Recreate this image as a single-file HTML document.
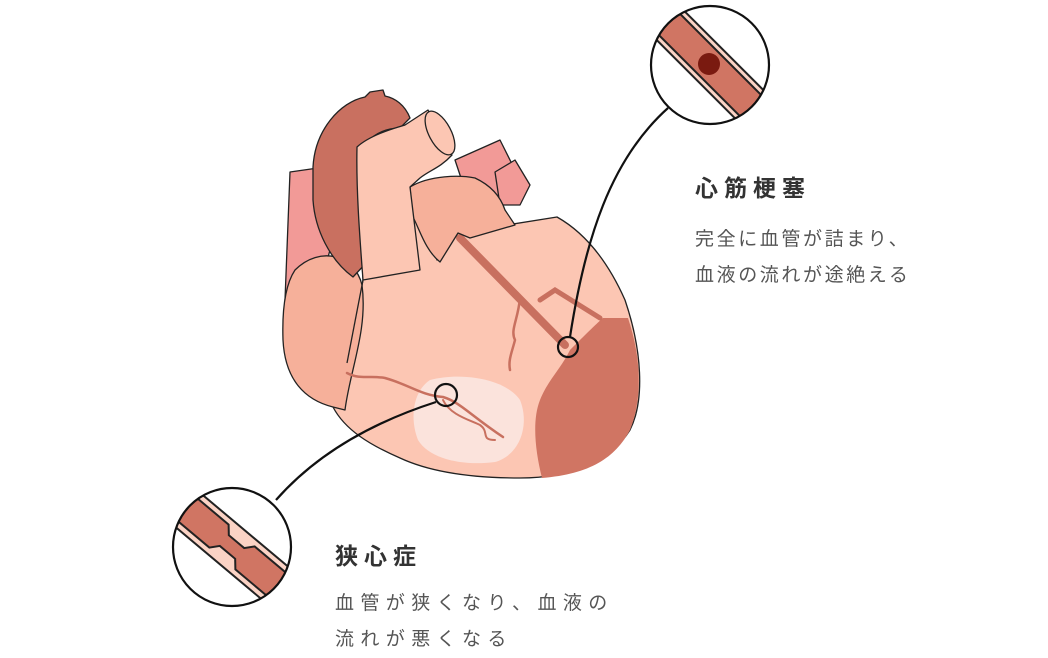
<!DOCTYPE html>
<html><head><meta charset="utf-8"><style>
body{margin:0;background:#fff;width:1048px;height:658px;overflow:hidden;font-family:"Liberation Sans","Noto Sans CJK JP",sans-serif;}
svg{position:absolute;left:0;top:0}
.h{position:absolute;font-size:23px;font-weight:bold;color:#333;letter-spacing:6px;white-space:nowrap}
.t{position:absolute;font-size:19px;color:#555;letter-spacing:2.6px;line-height:36px;white-space:nowrap}
</style></head><body>
<svg width="1048" height="658" viewBox="0 0 1048 658">
<defs>
<clipPath id="c1"><circle cx="710" cy="65" r="59"/></clipPath>
<clipPath id="c2"><circle cx="232" cy="547" r="59"/></clipPath>
</defs>
<g stroke="#222" stroke-width="1.3" stroke-linejoin="round">
<path d="M290,172 L318,168 L330,250 L300,360 L285,300 Z" fill="#f29a97"/>
<path d="M455,160 L500,140 L515,170 L500,200 L470,205 Z" fill="#f29a97"/>
<path d="M495,172 L515,160 L530,185 L520,205 L500,205 Z" fill="#f29a97"/>
<path d="M357,147 L363,280 L347,363 L333,407 C345,430 370,445 400,458 C430,472 470,478 520,478 C570,478 610,462 630,430 C645,400 642,350 625,300 C605,255 580,230 557,217 L457,233 L437,260 L410,187 L420,170 Z" fill="#fcc6b3"/>
<path d="M295,270 C320,245 355,255 362,285 C368,330 350,370 345,410 L333,407 C305,400 285,380 283,340 C282,310 285,285 295,270 Z" fill="#f6b09a"/>
</g>
<path d="M603,318 L628,318 C642,360 642,400 630,430 C615,458 590,474 542,478 C535,450 532,420 540,400 C548,380 560,370 570,350 C585,335 595,325 603,318 Z" fill="#d07563"/>
<path d="M430,380 C460,372 505,378 520,400 C530,425 520,455 495,462 C465,466 430,460 418,440 C410,420 412,392 430,380 Z" fill="#fbe3dc"/>
<g fill="none" stroke="#c8705f" stroke-linecap="round">
<path d="M460,238 L565,345" stroke-width="8"/>
<path d="M540,300 L555,290 L600,318" stroke-width="5"/>
<path d="M520,298 C518,320 510,330 515,340 C512,352 508,360 510,370" stroke-width="2.5"/>
<path d="M347,373 C360,380 370,375 385,378 C410,385 420,395 443,397 C460,402 470,415 503,437" stroke-width="2.5"/>
<path d="M443,400 C450,415 470,420 480,425 C490,432 480,440 495,440" stroke-width="2"/>
</g>
<g stroke="#222" stroke-width="1.3" stroke-linejoin="round">
<path d="M410,187 C430,175 460,175 475,178 C490,185 500,195 505,210 L515,225 L470,238 L458,233 L440,262 C425,250 420,230 412,215 Z" fill="#f6b09a"/>
<path d="M313,167 C315,130 340,102 365,97 L370,92 L383,90 L385,96 C395,98 405,105 410,118 L400,128 C380,128 365,140 358,155 C356,190 360,230 367,262 L353,277 C330,260 315,230 313,200 Z" fill="#c97060"/>
<path d="M357,147 C370,135 395,128 405,125 L428,110 L452,155 C440,168 430,170 420,178 L410,187 L420,270 L363,280 C360,240 356,190 357,147 Z" fill="#fcc6b3"/>
<ellipse cx="440" cy="133" rx="11" ry="24" transform="rotate(-28 440 133)" fill="#fcc6b3"/>
<path d="M363,280 L347,363" fill="none"/>
</g>
<g fill="none" stroke="#111" stroke-width="2.2">
<circle cx="568" cy="347" r="10"/>
<circle cx="446" cy="395" r="11"/>
<path d="M570,337 C585,240 610,160 668,108"/>
<path d="M436,402 C380,420 320,450 276,500"/>
</g>
<circle cx="710" cy="65" r="59" fill="#fff"/>
<g clip-path="url(#c1)">
<g transform="rotate(45 710 65)">
<rect x="620" y="45" width="180" height="40" fill="#fbd3c5" stroke="#222" stroke-width="2"/>
<rect x="620" y="50" width="180" height="30" fill="#d07563" stroke="#222" stroke-width="2"/>
</g>
<circle cx="709" cy="64" r="11" fill="#7a1a10"/>
</g>
<circle cx="710" cy="65" r="59" fill="none" stroke="#111" stroke-width="2.2"/>
<circle cx="232" cy="547" r="59" fill="#fff"/>
<g clip-path="url(#c2)">
<g transform="rotate(40 232 547)">
<rect x="140" y="526" width="190" height="42" fill="#fbd3c5" stroke="#222" stroke-width="2"/>
<path d="M140,532 L215,532 L222,540 L242,540 L249,532 L330,532 L330,562 L249,562 L242,554 L222,554 L215,562 L140,562 Z" fill="#d07563" stroke="#222" stroke-width="2"/>
</g>
</g>
<circle cx="232" cy="547" r="59" fill="none" stroke="#111" stroke-width="2.2"/>
</svg>
<div class="h" style="left:695px;top:169px">心筋梗塞</div>
<div class="t" style="left:695px;top:222px">完全に血管が詰まり、<br>血液の流れが途絶える</div>
<div class="h" style="left:335px;top:537px">狭心症</div>
<div class="t" style="left:335px;top:586px;letter-spacing:6.4px">血管が狭くなり、血液の<br>流れが悪くなる</div>
</body></html>
